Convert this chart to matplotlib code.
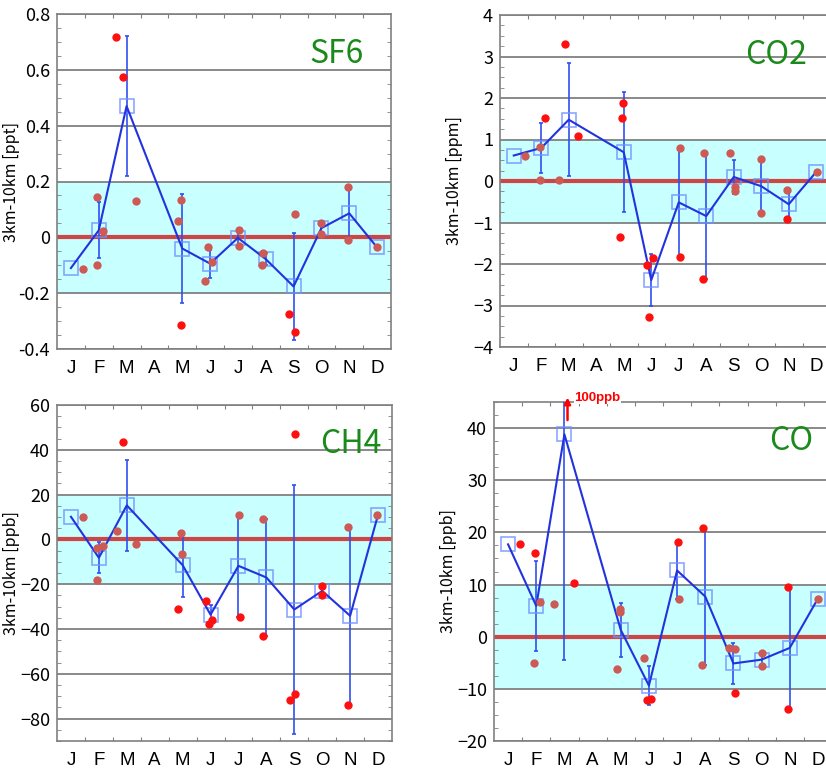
import matplotlib
matplotlib.use('Agg')
import matplotlib.pyplot as plt
from matplotlib.ticker import MultipleLocator, AutoMinorLocator

plt.rcParams['font.family'] = ['Noto Sans CJK JP', 'DejaVu Sans']

month_labels = ['J', 'F', 'M', 'A', 'M', 'J', 'J', 'A', 'S', 'O', 'N', 'D']
# months that have flights (no April)
mean_months = [0, 1, 2, 4, 5, 6, 7, 8, 9, 10, 11]

# ---- SF6 ----
sf6_mean = [-0.11, 0.025, 0.47, -0.04, -0.094, -0.002, -0.078, -0.176, 0.033, 0.086, -0.036]
sf6_sd = [0, 0.10, 0.25, 0.195, 0.05, 0.028, 0.022, 0.19, 0.02, 0.095, 0]
sf6_x = [0.92, 1.44, 1.44, 1.64, 2.13, 2.37, 2.83, 4.35, 4.47, 4.44, 5.43, 5.33, 5.56,
         6.53, 6.54, 7.39, 7.38, 8.35, 8.55, 8.56, 9.5, 9.5, 10.44, 10.44, 11.5]
sf6_y = [-0.113, 0.144, -0.10, 0.024, 0.716, 0.574, 0.13, 0.06, 0.132, -0.313, -0.036, -0.157, -0.09,
         0.026, -0.03, -0.057, -0.10, -0.273, -0.339, 0.083, 0.053, 0.012, 0.181, -0.01, -0.036]
sf6_hi = [0, 0, 0, 0, 1, 1, 0, 0, 0, 1, 0, 0, 0,
          0, 0, 0, 0, 1, 1, 0, 0, 0, 0, 0, 0]

# ---- CO2 ----
co2_mean = [0.614, 0.797, 1.477, 0.693, -2.387, -0.515, -0.845, 0.097, -0.125, -0.56, 0.22]
co2_sd = [0, 0.61, 1.366, 1.446, 0.63, 1.315, 1.515, 0.41, 0.655, 0.35, 0]
co2_x = [0.92, 1.44, 1.44, 1.65, 2.16, 2.38, 2.83, 4.35, 4.47, 4.45, 5.35, 5.55, 5.43,
         6.55, 6.53, 7.41, 7.39, 8.35, 8.56, 8.56, 9.5, 9.5, 10.45, 10.45, 11.52]
co2_y = [0.614, 0.83, 0.03, 1.53, 0.03, 3.31, 1.09, -1.34, 1.89, 1.53, -2.03, -1.86, -3.27,
         0.80, -1.83, 0.67, -2.36, 0.67, -0.15, -0.23, 0.53, -0.78, -0.21, -0.91, 0.22]
co2_hi = [0, 0, 0, 1, 0, 1, 1, 1, 1, 1, 1, 1, 1,
          0, 1, 0, 1, 0, 0, 0, 0, 0, 0, 1, 0]

# ---- CH4 ----
ch4_mean = [10.1, -8.2, 15.2, -11.5, -33.6, -11.8, -17.0, -31.3, -23.0, -34.1, 11.0]
ch4_sd = [0, 7.0, 20.3, 14.2, 4.4, 23.0, 26.1, 55.5, 2.0, 39.7, 0]
ch4_x = [0.93, 1.44, 1.44, 1.64, 2.15, 2.38, 2.83, 4.34, 4.45, 4.46, 5.33, 5.43, 5.54,
         6.51, 6.54, 7.39, 7.37, 8.33, 8.53, 8.53, 9.49, 9.49, 10.43, 10.43, 11.48]
ch4_y = [10.1, -3.7, -18.0, -2.8, 3.7, 43.7, -1.9, -30.9, 2.7, -6.4, -27.5, -37.6, -35.8,
         11.1, -34.8, 9.1, -43.1, -71.9, 47.1, -69.1, -21.0, -25.0, 5.6, -73.8, 11.0]
ch4_hi = [0, 0, 0, 0, 0, 1, 0, 1, 0, 0, 1, 1, 1,
          0, 1, 0, 1, 1, 1, 1, 1, 1, 0, 1, 0]

# ---- CO ----
co_mean = [17.7, 5.9, 38.8, 1.3, -9.37, 12.7, 7.7, -5.13, -4.4, -2.15, 7.3]
co_sd = [0, 8.7, 43.3, 5.2, 3.7, 5.5, 13.2, 4.0, 1.3, 11.75, 0]
co_x = [0.91, 1.45, 1.42, 1.64, 2.14, 2.61, 2.83, 4.35, 4.47, 4.46, 5.33, 5.43, 5.56,
        6.54, 6.56, 7.41, 7.39, 8.35, 8.55, 8.57, 9.51, 9.51, 10.45, 10.45, 11.5]
co_y = [17.7, 16.1, -5.1, 6.7, 6.2, 100.0, 10.3, -6.1, 5.3, 4.7, -4.1, -12.1, -11.9,
        18.2, 7.2, 20.9, -5.5, -2.2, -2.4, -10.8, -3.1, -5.7, 9.6, -13.9, 7.3]
co_hi = [1, 1, 0, 0, 0, 1, 1, 0, 0, 0, 0, 1, 1,
         1, 0, 1, 0, 0, 0, 1, 0, 0, 1, 1, 0]


def draw_panel(ax, name, name_pos, unit, ylim, major, band, means, sds, dx, dy, hi):
    ax.set_xlim(0, 12)
    ax.set_ylim(*ylim)

    # +/- band and zero line
    ax.axhspan(-band, band, color='#c8ffff', zorder=0, lw=0)
    ax.yaxis.set_major_locator(MultipleLocator(major))
    ax.yaxis.set_minor_locator(AutoMinorLocator(4))
    ax.grid(axis='y', which='major', color='#808080', lw=1.3, zorder=1)
    ax.set_axisbelow(True)
    ax.axhline(0, color='#cc4646', lw=3, zorder=2)

    mx = [m + 0.5 for m in mean_months]
    # spread of each month
    ex = [x for x, s in zip(mx, sds) if s > 0]
    ey = [y for y, s in zip(means, sds) if s > 0]
    es = [s for s in sds if s > 0]
    ax.errorbar(ex, ey, yerr=es, fmt='none', ecolor='#3050f0', elinewidth=1.2,
                capsize=1.5, capthick=1.2, zorder=3)
    ax.plot(mx, means, 's', ms=9.5, mfc='none', mec='#7090ff', mew=1.2, alpha=0.8, zorder=4)
    ax.plot(mx, means, '-', color='#2233dd', lw=1.5, zorder=5)

    # individual profiles
    lo_x = [x for x, h in zip(dx, hi) if not h]
    lo_y = [y for y, h in zip(dy, hi) if not h]
    hi_x = [x for x, h in zip(dx, hi) if h]
    hi_y = [y for y, h in zip(dy, hi) if h]
    ax.plot(lo_x, lo_y, 'o', ms=6, color='#cd5a55', mec='none', zorder=6)
    ax.plot(hi_x, hi_y, 'o', ms=6, color='#ff1010', mec='none', zorder=6)

    ax.set_xticks(range(1, 12))
    ax.set_xticklabels([])
    ax.set_xticks([m + 0.5 for m in range(12)], minor=True)
    ax.set_xticklabels(month_labels, minor=True, fontsize=13.5, family='Liberation Sans')
    ax.tick_params(axis='x', which='major', direction='in', length=3, color='#808080',
                   top=True, bottom=True)
    ax.tick_params(axis='x', which='minor', length=0, pad=8)
    ax.tick_params(axis='y', which='both', direction='in', color='#808080',
                   left=True, right=True, labelsize=13)
    ax.tick_params(axis='y', which='major', length=0, pad=5)
    ax.tick_params(axis='y', which='minor', length=3)

    for sp in ax.spines.values():
        sp.set_color('#808080')
        sp.set_linewidth(1.2)

    ax.set_ylabel('3km-10km [' + unit + ']', fontsize=11.5)
    ax.text(name_pos[0], name_pos[1], name, transform=ax.transAxes, color='#1a8a1a',
            fontsize=23, ha='center', va='center', zorder=7)


fig = plt.figure(figsize=(8.26, 7.73), dpi=100)
W, H = 826.0, 773.0


def add_axes(left, right, top, bottom):
    return fig.add_axes([left / W, 1 - bottom / H, (right - left) / W, (bottom - top) / H])


ax1 = add_axes(57, 391, 14, 349)
ax2 = add_axes(500, 830, 15, 347)
ax3 = add_axes(57, 392, 405, 741)
ax4 = add_axes(494, 832, 402, 741)

draw_panel(ax1, 'SF6', (0.838, 0.88), 'ppt', (-0.4, 0.8), 0.2, 0.2,
           sf6_mean, sf6_sd, sf6_x, sf6_y, sf6_hi)
draw_panel(ax2, 'CO2', (0.836, 0.88), 'ppm', (-4, 4), 1, 1,
           co2_mean, co2_sd, co2_x, co2_y, co2_hi)
draw_panel(ax3, 'CH4', (0.878, 0.885), 'ppb', (-90, 60), 20, 20,
           ch4_mean, ch4_sd, ch4_x, ch4_y, ch4_hi)
draw_panel(ax4, 'CO', (0.879, 0.885), 'ppb', (-20, 45), 10, 10,
           co_mean, co_sd, co_x, co_y, co_hi)

ax1.yaxis.set_major_formatter(plt.FuncFormatter(lambda v, p: '0' if abs(v) < 1e-9 else '%.1f' % v))
ax3.set_yticks([-80, -60, -40, -20, 0, 20, 40, 60])
ax4.set_yticks([-20, -10, 0, 10, 20, 30, 40])

for ax, w in [(ax1, 334), (ax2, 330), (ax3, 335), (ax4, 338)]:
    ax.yaxis.set_label_coords(-37.0 / w, 0.5)

# March CO point off scale
ax4.annotate('', xy=(2.61, 46.4), xytext=(2.61, 41.0),
             arrowprops=dict(arrowstyle='-|>', color='red', lw=1.8, mutation_scale=9),
             annotation_clip=False, zorder=8)
ax4.text(2.85, 45.8, '100ppb', color='red', fontsize=9.5, fontweight='bold',
         family='Liberation Sans', va='center', ha='left', zorder=8,
         bbox=dict(facecolor='white', edgecolor='none', pad=0.5), clip_on=False)

fig.savefig('out.png', dpi=100)
